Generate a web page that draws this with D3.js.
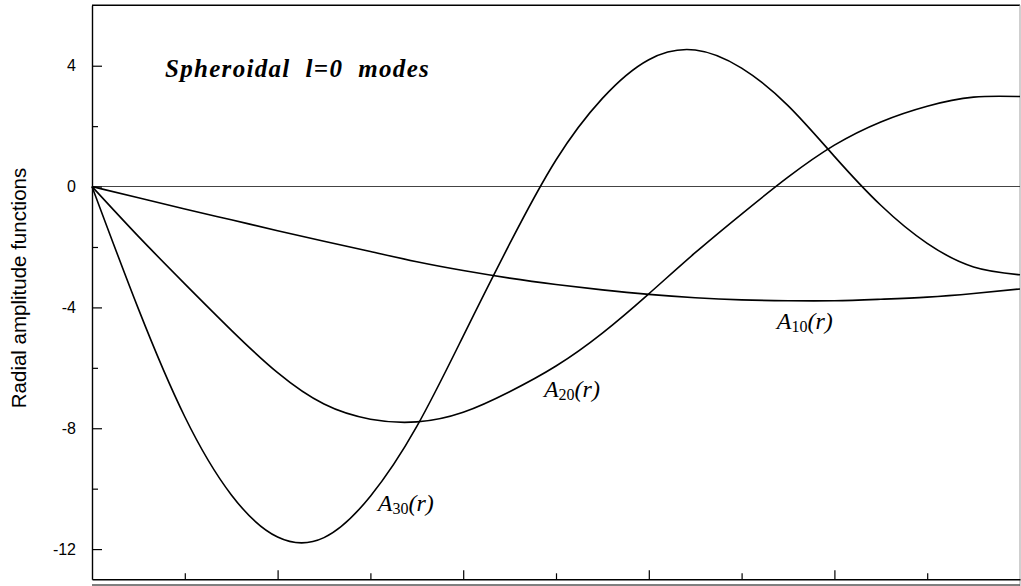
<!DOCTYPE html>
<html>
<head>
<meta charset="utf-8">
<script src="https://cdn.jsdelivr.net/npm/d3@7"></script>
<style>
  body { margin: 0; background: #fff; }
  svg { display: block; }
</style>
</head>
<body>
<div id="chart"></div>
<script>
// 1: DATA (r is normalised radius 0..1)
const rValues = [0, 0.05, 0.1, 0.15, 0.2, 0.25, 0.3, 0.35, 0.4, 0.45, 0.5,
                 0.55, 0.6, 0.65, 0.7, 0.75, 0.8, 0.85, 0.9, 0.95, 1.0];
const a10 = [0, -0.37, -0.74, -1.10, -1.46, -1.81, -2.15, -2.49, -2.78, -3.03, -3.24,
             -3.42, -3.57, -3.68, -3.75, -3.78, -3.78, -3.73, -3.66, -3.54, -3.39];
const a20 = [0, -1.65, -3.22, -4.75, -6.16, -7.20, -7.70, -7.79, -7.47, -6.79, -5.94,
             -4.85, -3.55, -2.19, -0.91, 0.31, 1.37, 2.14, 2.66, 2.96, 2.98];
const a30 = [0, -4.05, -7.62, -10.20, -11.60, -11.62, -10.25, -7.94, -4.95, -1.90, 0.88,
             2.92, 4.20, 4.52, 3.92, 2.68, 1.00, -0.62, -1.88, -2.66, -2.92];

const yMajorTicks = [-12, -8, -4, 0, 4];
const yMinorTicks = [-10, -6, -2, 2];
const xMajorTicks = [0.2, 0.4, 0.6, 0.8];
const xMinorTicks = [0.1, 0.3, 0.5, 0.7, 0.9];

const seriesNames = ["10", "20", "30"];
// label anchors in data units (r, amplitude)
const labelR = [0.738, 0.487, 0.308];
const labelA = [-4.71, -6.95, -10.75];

const titleText = "Spheroidal  l=0  modes";
const yTitle = "Radial amplitude functions";

// 2: SETUP
const W = 1021, H = 586;
const svg = d3.select("#chart").append("svg")
    .attr("width", W)
    .attr("height", H);

const x = d3.scaleLinear().domain([0, 1]).range([92, 1020]);
const y = d3.scaleLinear().domain([-13, 6]).range([579.3, 5.3]);

// frame
svg.append("line")
    .attr("x1", x(0)).attr("x2", x(1))
    .attr("y1", y(6)).attr("y2", y(6))
    .attr("stroke", "#000").attr("stroke-width", 1.4);
svg.append("line")
    .attr("x1", x(1)).attr("x2", x(1))
    .attr("y1", y(6)).attr("y2", H)
    .attr("stroke", "#b0b0b0").attr("stroke-width", 1.2);
svg.append("line")
    .attr("x1", x(0)).attr("x2", x(1))
    .attr("y1", 585).attr("y2", 585)
    .attr("stroke", "#555").attr("stroke-width", 1.4);

// zero line
svg.append("line")
    .attr("x1", x(0)).attr("x2", x(1))
    .attr("y1", y(0)).attr("y2", y(0))
    .attr("stroke", "#444").attr("stroke-width", 1.1);

// 3: AXES
const yAxis = svg.append("g")
    .attr("transform", `translate(${x(0)},0)`)
    .call(d3.axisLeft(y).tickValues(yMajorTicks).tickSize(-10).tickSizeOuter(0).tickPadding(16)
        .tickFormat(d3.format("d")));
yAxis.select(".domain").attr("stroke-width", 1.4);
yAxis.selectAll("text")
    .text(d => d < 0 ? "-" + Math.abs(d) : d)
    .style("font-family", "'Liberation Sans', Arial, sans-serif")
    .style("font-size", "16px")
    .attr("fill", "#000");

svg.append("g")
    .attr("transform", `translate(${x(0)},0)`)
    .call(d3.axisLeft(y).tickValues(yMinorTicks).tickSize(-6).tickSizeOuter(0).tickFormat(""))
    .call(g => g.select(".domain").remove());

const xAxis = svg.append("g")
    .attr("transform", `translate(0,${y(-13)})`)
    .call(d3.axisBottom(x).tickValues(xMajorTicks).tickSize(-9).tickSizeOuter(0).tickFormat(""));
xAxis.select(".domain").attr("stroke-width", 1.4);

svg.append("g")
    .attr("transform", `translate(0,${y(-13)})`)
    .call(d3.axisBottom(x).tickValues(xMinorTicks).tickSize(-6).tickSizeOuter(0).tickFormat(""))
    .call(g => g.select(".domain").remove());

svg.selectAll(".tick line").attr("stroke-width", 1.2);

// 4: CURVES
const line = d3.line()
    .x((d, i) => x(rValues[i]))
    .y(d => y(d))
    .curve(d3.curveNatural);

[a10, a20, a30].forEach(s => {
    svg.append("path")
        .datum(s)
        .attr("fill", "none")
        .attr("stroke", "#000")
        .attr("stroke-width", 1.6)
        .attr("d", line);
});

// 5: LABELS
seriesNames.forEach((n, i) => {
    const t = svg.append("text")
        .attr("x", x(labelR[i]))
        .attr("y", y(labelA[i]))
        .style("font-family", "'Liberation Serif', 'Times New Roman', serif")
        .style("font-size", "24px")
        .style("font-style", "italic");
    t.append("tspan").text("A");
    t.append("tspan")
        .attr("dy", 3)
        .style("font-style", "normal")
        .style("font-size", "16px")
        .text(n);
    t.append("tspan").attr("dy", -3).text("(r)");
});

svg.append("text")
    .attr("x", 165)
    .attr("y", 77)
    .style("font-family", "'Liberation Serif', 'Times New Roman', serif")
    .style("font-size", "25px")
    .style("font-style", "italic")
    .style("font-weight", "bold")
    .style("letter-spacing", "1.3px")
    .style("white-space", "pre")
    .text(titleText);

svg.append("text")
    .attr("transform", `translate(26,288) rotate(-90)`)
    .attr("text-anchor", "middle")
    .style("font-family", "'Liberation Sans', Arial, sans-serif")
    .style("font-size", "20.5px")
    .text(yTitle);
</script>
</body>
</html>
